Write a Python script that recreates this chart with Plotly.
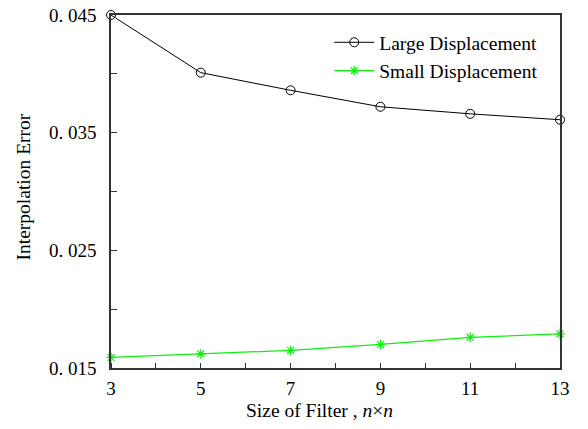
import plotly.graph_objects as go

sizes = [3, 5, 7, 9, 11, 13]
large_disp = [0.0450, 0.0401, 0.0386, 0.0372, 0.0366, 0.0361]
small_disp = [0.0159, 0.0162, 0.0165, 0.0170, 0.0176, 0.0179]
y_tickvals = [0.015, 0.025, 0.035, 0.045]
y_ticktext = ["0. 015", "0. 025", "0. 035", "0. 045"]
x_tickvals = [3, 5, 7, 9, 11, 13]
x_title = "Size of Filter , <i>n</i>×<i>n</i>"
y_title = "Interpolation Error"

font_family = "Liberation Serif"
green = "#11ee11"

fig = go.Figure()
fig.add_trace(go.Scatter(
    x=sizes, y=large_disp, mode="lines+markers", name="Large Displacement",
    line=dict(color="black", width=1),
    marker=dict(symbol="circle-open", size=9, color="black", line=dict(width=1)),
    cliponaxis=False,
))
fig.add_trace(go.Scatter(
    x=sizes, y=small_disp, mode="lines+markers", name="Small Displacement",
    line=dict(color=green, width=1.2),
    marker=dict(symbol="asterisk-open", size=8, color=green, line=dict(width=1.2, color=green)),
    cliponaxis=False,
))

fig.update_layout(
    width=588, height=429,
    margin=dict(l=111, r=28, t=15, b=61),
    plot_bgcolor="white", paper_bgcolor="white",
    font=dict(family=font_family, size=19, color="black"),
    showlegend=True,
    legend=dict(x=0.486, y=0.977, xanchor="left", yanchor="top", itemwidth=40,
                bgcolor="rgba(0,0,0,0)", font=dict(size=19.5), tracegroupgap=0),
    xaxis=dict(
        range=[3, 13], tickvals=x_tickvals, ticks="", showgrid=False, zeroline=False,
        showline=True, linecolor="#333", linewidth=1.5, mirror=True, automargin=False,
        minor=dict(ticks="inside", tick0=3, dtick=1, ticklen=5, tickcolor="#333", showgrid=False),
        tickfont=dict(size=19), ticklabelstandoff=2,
    ),
    yaxis=dict(
        range=[0.015, 0.045], tickvals=y_tickvals, ticktext=y_ticktext,
        ticks="inside", ticklen=6, tickcolor="#333", showgrid=False, zeroline=False,
        showline=True, linecolor="#333", linewidth=1.5, mirror=True, automargin=False,
        minor=dict(ticks="inside", tick0=0.015, dtick=0.005, ticklen=6, tickcolor="#333", showgrid=False),
        tickfont=dict(size=19), ticklabelstandoff=9,
    ),
    annotations=[
        dict(text=x_title, xref="paper", yref="paper", x=0.465, y=-0.119,
             xanchor="center", yanchor="middle", showarrow=False, font=dict(size=19.5)),
        dict(text=y_title, xref="paper", yref="paper", x=-0.194, y=0.514, textangle=-90,
             xanchor="center", yanchor="middle", showarrow=False, font=dict(size=19.5)),
    ],
)

fig.write_html("out.html", post_script="document.body.style.margin='0';",
               config={"displayModeBar": False})
